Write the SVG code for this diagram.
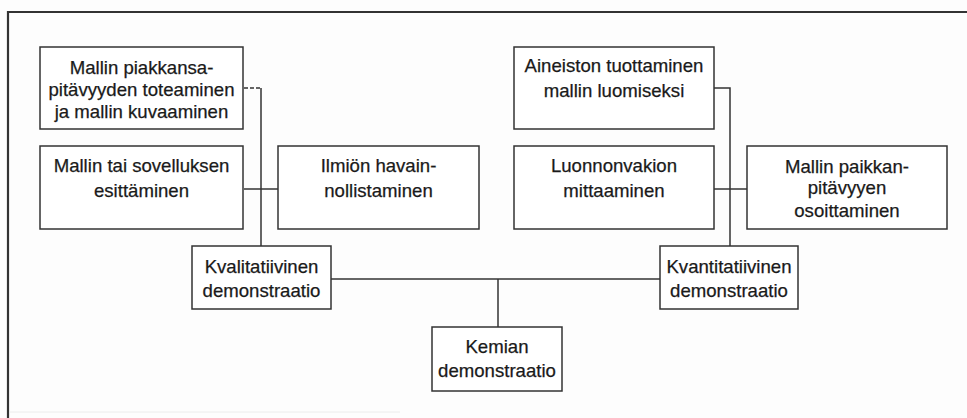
<svg xmlns="http://www.w3.org/2000/svg" width="967" height="418" viewBox="0 0 967 418">
<style>
.box{fill:#ffffff;stroke:#333333;stroke-width:1.5}
.t{font-family:"Liberation Sans",Arial,sans-serif;font-size:18.6px;fill:#1a1a1a;stroke:#1a1a1a;stroke-width:0.25;text-anchor:middle}
.c{fill:none;stroke:#333333;stroke-width:1.5}
.frame{fill:none;stroke:#333333;stroke-width:2.2}
</style>
<rect x="0" y="0" width="967" height="418" fill="#fdfdfd"/>
<path class="frame" d="M8,418 V12 H967"/>
<path d="M10,412 H400" stroke="#ececec" stroke-width="1"/>
<g id="connectors">
<path class="c" d="M244,88 H261" stroke-dasharray="4,2"/>
<path class="c" d="M261,88 V246"/>
<path class="c" d="M244,189 H278"/>
<path class="c" d="M714,88 H730 V246"/>
<path class="c" d="M714,189 H747"/>
<path class="c" d="M331,279 H660"/>
<path class="c" d="M498,279 V327"/>
</g>
<g id="n1">
<rect class="box" x="40" y="47" width="203" height="82"/>
<text class="t" x="141.5" y="74">Mallin piakkansa-</text>
<text class="t" x="141.5" y="96">pitävyyden toteaminen</text>
<text class="t" x="141.5" y="118">ja mallin kuvaaminen</text>
</g>
<g id="n2">
<rect class="box" x="40" y="146" width="203" height="83"/>
<text class="t" x="141.5" y="171.5">Mallin tai sovelluksen</text>
<text class="t" x="141.5" y="196.5">esittäminen</text>
</g>
<g id="n3">
<rect class="box" x="278" y="146" width="201" height="83"/>
<text class="t" x="378.5" y="171.5">Ilmiön havain-</text>
<text class="t" x="378.5" y="196.5">nollistaminen</text>
</g>
<g id="n4">
<rect class="box" x="514" y="47" width="200" height="82"/>
<text class="t" x="614" y="71.5">Aineiston tuottaminen</text>
<text class="t" x="614" y="96.5">mallin luomiseksi</text>
</g>
<g id="n5">
<rect class="box" x="514" y="146" width="200" height="83"/>
<text class="t" x="614" y="171.5">Luonnonvakion</text>
<text class="t" x="614" y="196.5">mittaaminen</text>
</g>
<g id="n6">
<rect class="box" x="747" y="146" width="200" height="83"/>
<text class="t" x="847" y="173">Mallin paikkan-</text>
<text class="t" x="847" y="194">pitävyyen</text>
<text class="t" x="847" y="217">osoittaminen</text>
</g>
<g id="n7">
<rect class="box" x="192" y="246" width="139" height="63"/>
<text class="t" x="261.5" y="273">Kvalitatiivinen</text>
<text class="t" x="261.5" y="296.5">demonstraatio</text>
</g>
<g id="n8">
<rect class="box" x="660" y="246" width="138" height="63"/>
<text class="t" x="729" y="273">Kvantitatiivinen</text>
<text class="t" x="729" y="296.5">demonstraatio</text>
</g>
<g id="n9">
<rect class="box" x="432" y="327" width="130" height="64"/>
<text class="t" x="497" y="353">Kemian</text>
<text class="t" x="497" y="376.5">demonstraatio</text>
</g>
</svg>
